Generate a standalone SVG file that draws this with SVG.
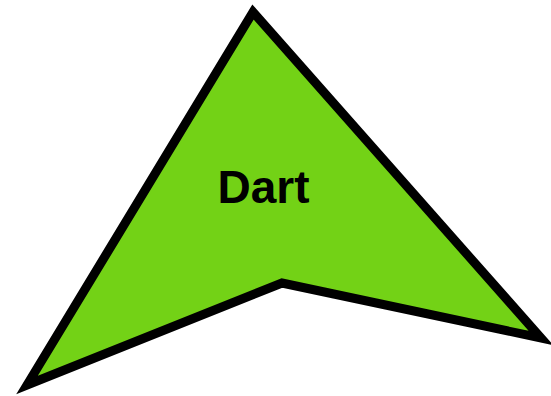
<svg xmlns="http://www.w3.org/2000/svg" width="551" height="396" viewBox="0 0 551 396">
<style>
.shape{fill:#73d216;stroke:#000;stroke-width:9;stroke-linejoin:miter;stroke-miterlimit:10}
.lbl{font-family:"Liberation Sans",Arial,sans-serif;font-weight:bold;font-size:46px;fill:#000;text-anchor:middle}
</style>
<rect width="551" height="396" fill="#fff"/>
<g id="dart">
<polygon class="shape" points="253,12 541,338 282,283 27,385"/>
<text class="lbl" x="263.5" y="203">Dart</text>
</g>
</svg>
